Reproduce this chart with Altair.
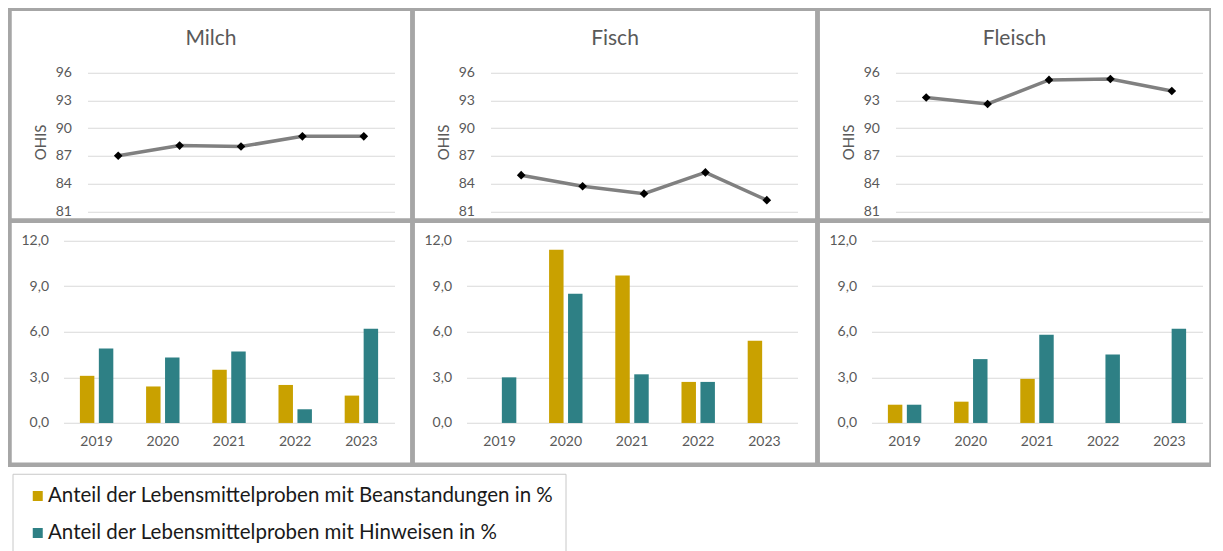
import altair as alt
import pandas as pd

years = ["2019", "2020", "2021", "2022", "2023"]
categories = ["Milch", "Fisch", "Fleisch"]
series = [
    "Anteil der Lebensmittelproben mit Beanstandungen in %",
    "Anteil der Lebensmittelproben mit Hinweisen in %",
]

ohis_milch = [87.0, 88.1, 88.0, 89.1, 89.1]
ohis_fisch = [84.9, 83.7, 82.9, 85.2, 82.2]
ohis_fleisch = [93.3, 92.6, 95.2, 95.3, 94.0]

beanst_milch = [3.1, 2.4, 3.5, 2.5, 1.8]
hinweise_milch = [4.9, 4.3, 4.7, 0.9, 6.2]
beanst_fisch = [None, 11.4, 9.7, 2.7, 5.4]
hinweise_fisch = [3.0, 8.5, 3.2, 2.7, None]
beanst_fleisch = [1.2, 1.4, 2.9, None, None]
hinweise_fleisch = [1.2, 4.2, 5.8, 4.5, 6.2]

ohis_ticks = [81, 84, 87, 90, 93, 96]
pct_ticks = [0, 3, 6, 9, 12]

FONT = "Lato"
GOLD = "#C9A100"
TEAL = "#2E8085"
GRID = "#d9d9d9"
TXT = "#595959"

ohis_all = {"Milch": ohis_milch, "Fisch": ohis_fisch, "Fleisch": ohis_fleisch}
bars_all = {
    "Milch": (beanst_milch, hinweise_milch),
    "Fisch": (beanst_fisch, hinweise_fisch),
    "Fleisch": (beanst_fleisch, hinweise_fleisch),
}
widths = {"Milch": 403, "Fisch": 405, "Fleisch": 394}
TOP_H = 212
BOT_H = 244


def right_end(w):
    return min(385, w - 9)


def top_chart(name):
    w = widths[name]
    df = pd.DataFrame({"Jahr": years, "OHIS": ohis_all[name]})
    base = alt.Chart(df).encode(
        x=alt.X("Jahr:O", scale=alt.Scale(type="point", padding=0.5, range=[78, right_end(w)]), axis=None),
        y=alt.Y(
            "OHIS:Q",
            scale=alt.Scale(domain=[81, 96], range=[202.5, 63.8], nice=False, zero=False),
            axis=alt.Axis(
                values=ohis_ticks, grid=True, gridColor=GRID, domain=False, ticks=False,
                tickSize=0, labelPadding=0, offset=-62, title="OHIS", titleAngle=270,
                titleBaseline="middle", titleX=-31, titleFontSize=15, titleFontWeight="normal",
                titleColor=TXT, titleFont=FONT,
            ),
        ),
    )
    line = base.mark_line(color="#808080", strokeWidth=3.5)
    pts = base.mark_point(shape="diamond", filled=True, color="black", size=75, opacity=1)
    return alt.layer(line, pts).properties(
        width=w, height=TOP_H,
        title=alt.TitleParams(
            text=name, fontSize=21, font=FONT, color=TXT, fontWeight="normal",
            anchor="middle", frame="group", offset=-40.5,
        ),
    )


def bottom_chart(name):
    w = widths[name]
    b, h = bars_all[name]
    rows = []
    for i, y in enumerate(years):
        if b[i] is not None:
            rows.append({"Jahr": y, "Serie": series[0], "Wert": b[i]})
        if h[i] is not None:
            rows.append({"Jahr": y, "Serie": series[1], "Wert": h[i]})
    df = pd.DataFrame(rows)
    return alt.Chart(df).mark_bar().encode(
        x=alt.X(
            "Jahr:O",
            scale=alt.Scale(domain=years, range=[54, right_end(w)], paddingInner=0.495, paddingOuter=0.2475),
            axis=alt.Axis(title=None, domain=False, ticks=False, tickSize=0, labelPadding=0,
                          offset=-30, labelAngle=0, grid=False),
        ),
        xOffset=alt.XOffset("Serie:N", scale=alt.Scale(domain=series, paddingInner=0.237, paddingOuter=0)),
        y=alt.Y(
            "Wert:Q",
            scale=alt.Scale(domain=[0, 12], range=[202.2, 19.8], nice=False),
            axis=alt.Axis(
                values=pct_ticks, grid=True, gridColor=GRID, domain=False, ticks=False, tickSize=0,
                labelPadding=0, offset=-39, title=None,
                labelExpr="replace(format(datum.value, '.1f'), '.', ',')",
            ),
        ),
        color=alt.Color(
            "Serie:N",
            scale=alt.Scale(domain=series, range=[GOLD, TEAL]),
            legend=alt.Legend(
                title=None, orient="none", legendX=3, legendY=465, direction="vertical",
                symbolType="square", symbolSize=100, symbolStrokeWidth=0, symbolOffset=3,
                labelOffset=0, rowPadding=16, padding=12, strokeColor="#c8c8c8",
                labelFont=FONT, labelFontSize=20.5, labelColor="#1a1a1a", labelLimit=1000,
            ),
        ),
    ).properties(width=w, height=BOT_H)


panels = [top_chart(n) for n in categories] + [bottom_chart(n) for n in categories]
chart = alt.concat(*panels, columns=3, spacing=0, bounds="flush").properties(
    padding={"left": -1.5, "top": -2.25, "right": -3.5, "bottom": 0}
).resolve_scale(
    x="independent", y="independent"
).configure_view(
    stroke="#a6a6a6", strokeWidth=4.5
).configure_axis(
    labelFont=FONT, labelFontSize=14, labelColor=TXT, gridWidth=1
).configure_concat(spacing=0)

chart.save("out.html", embed_options={"renderer": "svg", "actions": False})
